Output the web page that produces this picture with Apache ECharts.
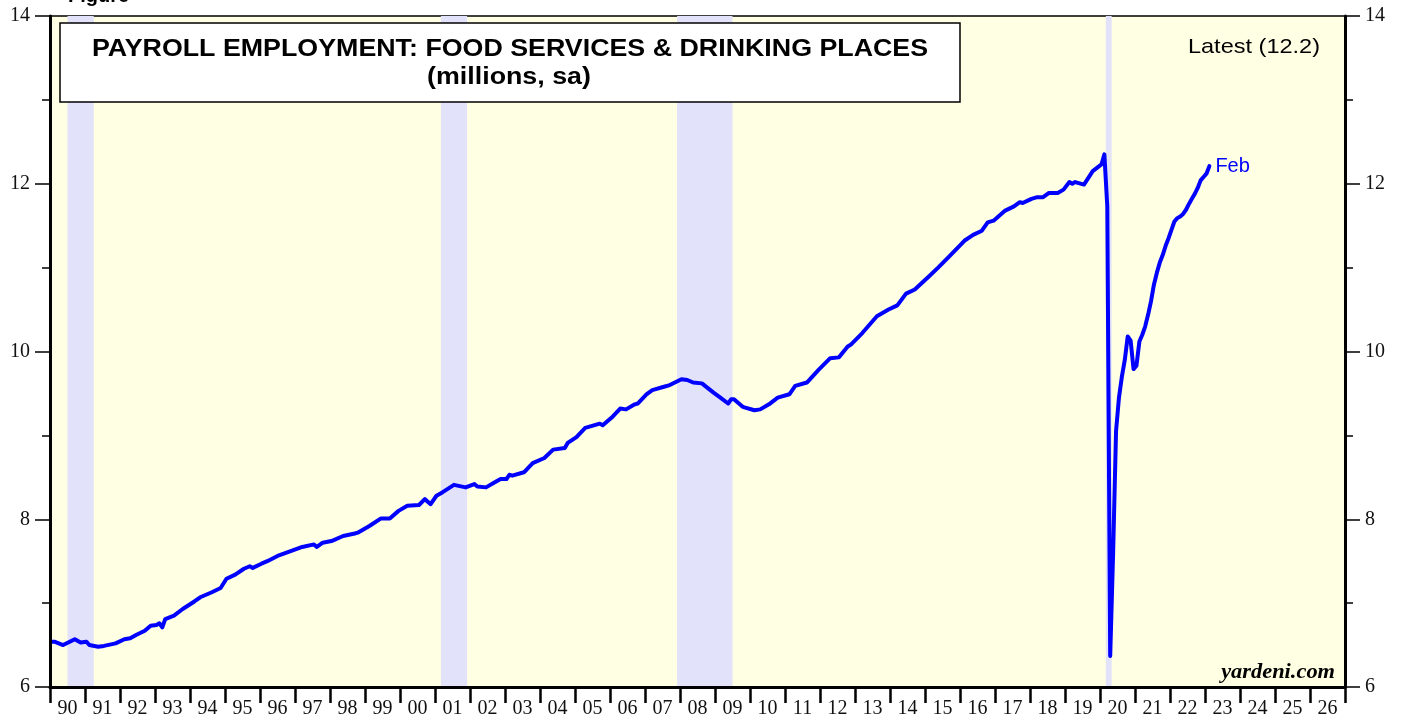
<!DOCTYPE html>
<html>
<head>
<meta charset="utf-8">
<script src="https://cdn.jsdelivr.net/npm/echarts@6/dist/echarts.min.js"></script>
<style>
html,body{margin:0;padding:0;background:#fff;}
#chart{width:1405px;height:719px;}
</style>
</head>
<body>
<div id="chart"></div>
<script>
// ---- Data ----
const yearLabels = ['90','91','92','93','94','95','96','97','98','99','00','01','02','03','04','05','06','07','08','09',
  '10','11','12','13','14','15','16','17','18','19','20','21','22','23','24','25','26'];
const yTicks = [6, 8, 10, 12, 14];
const recessions = [['1990-07','1991-03'],['2001-03','2001-11'],['2007-12','2009-06'],['2020-03','2020-04']];
const employment = [
  ['1990-01',6.54],['1990-02',6.54],['1990-05',6.50],['1990-09',6.57],['1990-11',6.53],
  ['1991-01',6.54],['1991-02',6.50],['1991-05',6.48],['1991-07',6.49],['1991-11',6.52],
  ['1992-02',6.57],['1992-04',6.58],['1992-06',6.62],['1992-09',6.67],['1992-11',6.73],
  ['1993-01',6.74],['1993-02',6.76],['1993-03',6.71],['1993-04',6.81],['1993-07',6.85],['1993-10',6.93],
  ['1994-02',7.02],['1994-04',7.07],['1994-08',7.13],['1994-11',7.18],
  ['1995-01',7.29],['1995-04',7.34],['1995-07',7.41],['1995-09',7.44],['1995-10',7.42],
  ['1996-01',7.47],['1996-03',7.50],['1996-07',7.57],['1996-11',7.62],
  ['1997-03',7.67],['1997-07',7.70],['1997-08',7.67],['1997-10',7.72],
  ['1998-01',7.74],['1998-05',7.80],['1998-09',7.83],['1998-10',7.84],
  ['1999-02',7.92],['1999-06',8.01],['1999-09',8.01],['1999-12',8.10],
  ['2000-03',8.16],['2000-07',8.17],['2000-09',8.24],['2000-11',8.18],
  ['2001-01',8.28],['2001-03',8.32],['2001-07',8.41],['2001-11',8.38],
  ['2002-02',8.42],['2002-03',8.39],['2002-06',8.38],['2002-09',8.44],['2002-11',8.48],
  ['2003-01',8.48],['2003-02',8.53],['2003-03',8.52],['2003-07',8.56],['2003-10',8.67],
  ['2004-02',8.73],['2004-05',8.83],['2004-09',8.85],['2004-10',8.91],
  ['2005-01',8.98],['2005-04',9.09],['2005-09',9.14],['2005-10',9.12],
  ['2006-01',9.21],['2006-04',9.32],['2006-06',9.31],['2006-09',9.37],['2006-10',9.38],
  ['2007-01',9.49],['2007-03',9.54],['2007-07',9.58],['2007-09',9.60],
  ['2008-01',9.67],['2008-03',9.66],['2008-05',9.63],['2008-08',9.62],['2008-12',9.51],
  ['2009-02',9.46],['2009-05',9.38],['2009-06',9.43],['2009-07',9.43],['2009-10',9.34],
  ['2010-02',9.30],['2010-04',9.31],['2010-07',9.37],['2010-10',9.45],
  ['2011-02',9.49],['2011-04',9.59],['2011-08',9.63],['2011-12',9.78],
  ['2012-04',9.92],['2012-07',9.93],['2012-10',10.06],['2012-11',10.08],
  ['2013-03',10.22],['2013-08',10.42],['2013-12',10.50],
  ['2014-03',10.55],['2014-06',10.69],['2014-09',10.74],
  ['2015-02',10.90],['2015-05',11.00],['2015-09',11.14],
  ['2016-02',11.32],['2016-05',11.39],['2016-08',11.44],['2016-10',11.54],['2016-12',11.56],
  ['2017-04',11.68],['2017-07',11.73],['2017-09',11.78],['2017-10',11.77],
  ['2018-01',11.82],['2018-03',11.84],['2018-05',11.84],['2018-07',11.89],['2018-10',11.89],['2018-12',11.93],
  ['2019-02',12.02],['2019-03',12.00],['2019-04',12.02],['2019-07',11.99],['2019-10',12.15],
  ['2020-01',12.23],['2020-02',12.35],['2020-03',11.73],['2020-04',6.37],['2020-05',7.60],['2020-06',9.05],
  ['2020-07',9.45],['2020-08',9.70],['2020-09',9.90],['2020-10',10.18],['2020-11',10.13],['2020-12',9.79],
  ['2021-01',9.83],['2021-02',10.12],['2021-03',10.20],['2021-04',10.30],['2021-05',10.44],['2021-06',10.60],
  ['2021-07',10.80],['2021-08',10.94],['2021-09',11.06],['2021-10',11.15],['2021-11',11.26],['2021-12',11.35],
  ['2022-01',11.45],['2022-02',11.55],['2022-03',11.59],['2022-04',11.61],['2022-05',11.64],['2022-06',11.69],
  ['2022-07',11.76],['2022-08',11.82],['2022-09',11.88],['2022-10',11.95],['2022-11',12.04],['2022-12',12.08],
  ['2023-01',12.12],['2023-02',12.21]
];
const endLabelText = 'Feb';
const latestText = 'Latest (12.2)';
const titleLine1 = 'PAYROLL EMPLOYMENT: FOOD SERVICES & DRINKING PLACES';
const titleLine2 = '(millions, sa)';

// ---- helpers ----
function midMonth(s){ const [y,m]=s.split('-').map(Number); return y + (m-0.5)/12; }
function startMonth(s){ const [y,m]=s.split('-').map(Number); return y + (m-1)/12; }
function endMonth(s){ const [y,m]=s.split('-').map(Number); return y + m/12; }

const lineData = employment.map(p => [midMonth(p[0]), p[1]]);
const bandData = recessions.map(r => [{xAxis: startMonth(r[0])}, {xAxis: endMonth(r[1])}]);

const serif = '"Liberation Serif", "Times New Roman", serif';
const sans = '"Liberation Sans", Arial, sans-serif';

const yAxisBase = {
  type: 'value', min: yTicks[0], max: yTicks[yTicks.length-1], interval: 2, z: 10,
  axisLine: {show: true, onZero: false, lineStyle: {color: '#000', width: 3}},
  axisTick: {show: true, inside: false, length: 15, lineStyle: {color: '#000', width: 1.5}},
  minorTick: {show: true, splitNumber: 2, length: 8, lineStyle: {color: '#000', width: 1.5}},
  splitLine: {show: false},
  axisLabel: {color: '#111', fontFamily: serif, fontSize: 20, margin: 20}
};

const chart = echarts.init(document.getElementById('chart'), null, {renderer: 'canvas'});
chart.setOption({
  animation: false,
  backgroundColor: '#fff',
  grid: {left: 50, right: 60, top: 16, bottom: 31, show: true, backgroundColor: '#FFFFE3', borderColor: '#000', borderWidth: 1.5},
  xAxis: [
    {
      type: 'category', data: yearLabels, boundaryGap: true, position: 'bottom', z: 10,
      axisLine: {show: true, lineStyle: {color: '#000', width: 3}},
      axisTick: {show: true, interval: 0, inside: false, length: 16, lineStyle: {color: '#000', width: 2.5}},
      axisLabel: {interval: 0, color: '#111', fontFamily: serif, fontSize: 20, margin: 12},
      splitLine: {show: false}
    },
    {type: 'value', min: 1990, max: 2027, position: 'top', show: false}
  ],
  yAxis: [
    Object.assign({}, yAxisBase, {position: 'left'}),
    Object.assign({}, yAxisBase, {position: 'right'})
  ],
  series: [
    {
      type: 'line', xAxisIndex: 1, yAxisIndex: 0, data: [], z: 1, silent: true,
      markArea: {silent: true, itemStyle: {color: '#E2E2FA'}, data: bandData}
    },
    {
      type: 'line', xAxisIndex: 1, yAxisIndex: 0, data: lineData, z: 3,
      showSymbol: false, symbol: 'none',
      lineStyle: {color: '#0000FF', width: 4, join: 'round', cap: 'round'},
      endLabel: {show: true, formatter: endLabelText, color: '#0000FF', fontFamily: sans, fontSize: 20, distance: 6}
    }
  ],
  graphic: [
    {type: 'text', x: 68, y: 6, z: 100,
      style: {text: 'Figure', font: 'bold 20px ' + sans, fill: '#000', textAlign: 'left', textVerticalAlign: 'bottom', align: 'left', verticalAlign: 'bottom'}},
    {type: 'rect', z: 100, shape: {x: 60, y: 23, width: 900, height: 79},
      style: {fill: '#fff', stroke: '#000', lineWidth: 1.5}},
    {type: 'text', x: 510, y: 50, scaleX: 1.165, z: 101,
      style: {text: titleLine1, font: 'bold 23px ' + sans, fill: '#000', textAlign: 'center', textVerticalAlign: 'middle', align: 'center', verticalAlign: 'middle'}},
    {type: 'text', x: 509, y: 78, scaleX: 1.165, z: 101,
      style: {text: titleLine2, font: 'bold 23px ' + sans, fill: '#000', textAlign: 'center', textVerticalAlign: 'middle', align: 'center', verticalAlign: 'middle'}},
    {type: 'text', x: 1320, y: 47, scaleX: 1.12, z: 101,
      style: {text: latestText, font: '21px ' + sans, fill: '#000', textAlign: 'right', textVerticalAlign: 'middle', align: 'right', verticalAlign: 'middle'}},
    {type: 'text', x: 1335, y: 673, scaleX: 1.12, z: 101,
      style: {text: 'yardeni.com', font: 'italic bold 20px ' + serif, fill: '#000', textAlign: 'right', textVerticalAlign: 'middle', align: 'right', verticalAlign: 'middle'}}
  ]
});
</script>
</body>
</html>
